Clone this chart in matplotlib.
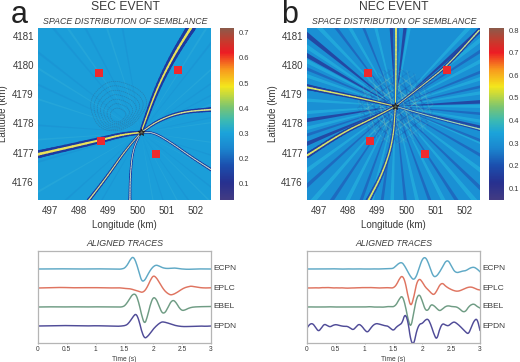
import matplotlib
matplotlib.use("Agg")
from matplotlib import pyplot as plt
from matplotlib.colors import LinearSegmentedColormap, Normalize
from matplotlib.cm import ScalarMappable
from matplotlib.collections import LineCollection
from matplotlib.patches import Circle
import numpy as np

plt.rcParams['font.family'] = ['Liberation Sans', 'DejaVu Sans']

# station squares, same for both events
STATION_LON = [498.70, 501.40, 498.76, 500.66]
STATION_LAT = [4179.72, 4179.84, 4177.41, 4176.96]

# epicentres
STAR_A = (500.13, 4177.69)
STAR_B = (499.63, 4178.59)

# semblance ridges, panel a
A_NE = [(500.13, 4177.69), (500.65, 4179.14), (501.22, 4180.29), (501.85, 4181.3)]
A_W = [(496.6, 4176.94), (498.71, 4177.42), (499.5, 4177.62), (500.13, 4177.69)]
A_E = [(500.13, 4177.69), (500.75, 4178.12), (501.55, 4178.4), (502.55, 4178.48)]
A_SE = [(500.13, 4177.69), (500.55, 4177.7), (501.15, 4177.35), (501.85, 4176.85), (502.55, 4176.4)]
A_SW = [(500.13, 4177.69), (499.6, 4177.08), (498.95, 4176.15), (498.33, 4175.35)]
A_S = [(500.13, 4177.69), (499.85, 4177.1), (499.76, 4176.2), (499.75, 4175.35)]

# semblance ridges, panel b
B_W = [(496.6, 4179.24), (498.43, 4178.87), (499.63, 4178.59)]
B_SW = [(496.6, 4176.9), (497.85, 4177.7), (498.8, 4178.15), (499.63, 4178.59)]
B_NE = [(499.63, 4178.59), (500.7, 4179.42), (501.4, 4179.98), (502.5, 4181.2)]
B_N = [(499.63, 4178.59), (499.65, 4179.95), (499.65, 4181.3)]
B_S = [(499.63, 4178.59), (499.55, 4177.4), (499.2, 4176.3), (498.7, 4175.35)]
B_SE = [(499.63, 4178.59), (500.9, 4178.22), (502.55, 4177.8)]

# angles of the faint semblance stripes, degrees from east
A_RAYS_DARK = [12, 28, 35, 52, 100, 118, 130, 142, 155, 176, 196, 222, 240, 288, 305, 322, 342]
A_RAYS_LIGHT = [8, 22, 42, 58, 108, 125, 148, 162, 184, 210, 232, 280, 298, 315, 332, 352]
B_RAYS_STRONG = [-14, 3, 42, 83, 93, 141, 150, 167, 189, 203]
B_RAYS_DARK = [-22, -5, 13, 22, 33, 112, 127, 157, 198, 222, 236, 250, 262, 276, 290, 303, 316, 330]
B_RAYS_LIGHT = [-10, 0, 9, 18, 28, 38, 47, 80, 104, 120, 134, 146, 153, 161, 176, 184, 194, 216, 229,
                243, 256, 268, 283, 297, 310, 323, 337]

# interference lattice close to the epicentre panel b
LATTICE_ANGLES = [35, -40, 105]
LATTICE_OFFSETS = [-1.1, -0.9, -0.7, -0.5, -0.3, -0.1, 0.1, 0.3, 0.5, 0.7, 0.9, 1.1]
LATTICE_RADII = [1.3, 1.0, 0.7]

# topography outline and its contour levels
TOPO_LON = [498.43, 498.39, 498.66, 499.11, 499.68, 500.2, 500.37, 500.14, 499.85, 499.28, 498.71]
TOPO_LAT = [4178.34, 4178.8, 4179.2, 4179.49, 4179.37, 4179.08, 4178.68, 4178.28, 4177.94, 4177.71, 4177.82]
TOPO_LEVELS = [1.0, 0.88, 0.76, 0.64, 0.52, 0.4, 0.28]

LON_TICKS = [497, 498, 499, 500, 501, 502]
LAT_TICKS = [4176, 4177, 4178, 4179, 4180, 4181]
CBAR_TICKS_A = [0.1, 0.2, 0.3, 0.4, 0.5, 0.6, 0.7]
CBAR_TICKS_B = [0.1, 0.2, 0.3, 0.4, 0.5, 0.6, 0.7, 0.8]

TRACE_NAMES = ['ECPN', 'EPLC', 'EBEL', 'EPDN']
TRACE_OFFSETS = [74, 55, 36, 17]

TIME_A = [0, 0.2, 0.4, 0.6, 0.8, 1.0, 1.2, 1.4, 1.45, 1.5, 1.55, 1.6, 1.65, 1.7, 1.75, 1.8, 1.85, 1.9, 1.95, 2.0,
          2.05, 2.1, 2.15, 2.2, 2.25, 2.3, 2.35, 2.4, 2.45, 2.5, 2.55, 2.6, 2.65, 2.7, 2.8, 2.9, 3.0]
A_ECPN = [0, 0.1, 0.2, 0, 0, 0.2, 0, -0.2, 0, 0.8, 4, 9.5, 12.5, 7, -3, -12.5, -11.5, -6, -1, 2.5,
          4, 3, 1.5, 0.7, 0.5, 0.8, 1, 0.8, 0.3, 0, -0.2, -0.3, -0.2, 0, 0.1, 0, 0]
A_EPLC = [0, 0.3, 0.6, 0.2, 0.3, 0.4, 0, 0.2, 0, -0.4, -0.6, -0.8, -1.6, -2.5, -3.4, -4.5, -3, 1.5, 8, 12.5,
          10.5, 6, 1, -3, -5.5, -7, -6.3, -4.8, -3, -1, 0.4, 1.2, 1.9, 1.4, 0.4, 0, 0.2]
A_EBEL = [0, 0.2, 0, 0.2, 0, 0.2, 0, 0, 0, 1, 4.5, 9.5, 13, 12.5, 4, -9, -17.5, -9, 3, 10,
          8, 1, -6, -6, -1, 5, 7, 4, -1, -3.6, -3, -1.5, -0.5, 0, 0.3, 0.4, 0.5]
A_EPDN = [0, 0.2, 0.5, 0.3, 0, 0.3, 0, -0.3, 0, 0.3, 1.5, 5, 9.5, 12.5, 6, -6, -12.5, -10.5, -7, -3,
          0, 2.5, 4.2, 3.8, 3, 2, 1, 0.3, -0.2, -0.5, -0.6, -0.5, -0.3, -0.4, 0, -0.3, 0]

TIME_B = [round(i * 0.05, 2) for i in range(61)]
B_ECPN = [0, 0, 0, 0.1, 0.1, 0, 0, 0, 0.1, 0.2, 0.1, 0, -0.1, 0, 0.1, 0, 0, 0.1, 0.2, 0, 0, -0.1, 0, 0.1, 0, 0,
          0.2, 0.3, 0.4, 0.3, 0.8, 3.5, 6, 6.5, 2.5, -3, -8, -11, -7, 2, 10, 12, 7, -2, -8, -7, -3, 2, 7.5, 8.5,
          3.5, -2, -3.7, -3, -2, -1.8, 0, 1.5, 1.8, 0, -2.7]
B_EPLC = [0, 0, 0.1, 0.2, 0, 0.4, 0.3, 0.5, 0.3, 0, 0.2, 0, 0.2, 0, -0.2, 0.1, 0, 0.2, 0.2, 0.4, 0.3, 0.2, 0.5,
          0.2, 0.1, 0, 0.2, 0.4, 0.3, 0, 0.2, 3, 9, 12.5, 7, -8, -19, -10, 5, 9.5, 6, 1, -1.7, -5, -7, -3, 3, 5,
          2, 0, -1.5, -2.7, -3.3, -2.8, -1.5, -0.2, 0.8, 1, 0, -1.5, -2]
B_EBEL = [0, 0.1, 0, 0, 0.1, 0, 0, 0.1, 0.2, 0, 0, 0, 0.1, 0, 0, 0, 0, 0, 0.1, 0, 0, 0.2, 0.3, 0, -0.1, 0, -0.2,
          0, 0.5, 0.2, 0.2, 2.5, 8, 11.5, 3, -12, -21, -6, 9, 13, 6, -3, -3.5, 2.6, 1.5, -1.5, -4, -2, 0.5, 1.3,
          0.5, 0.3, 0, -2, -4.8, -4.5, 0, 2.5, 3, 0.5, -1]
B_EPDN = [-2, 2, 2.5, -1.5, -5.5, -2, 2, 0.5, -1, 0.7, 1.5, 0.7, 0, -0.4, -0.3, -2, -4, -1, 2, 0, -4, -6.5, -2.5,
          1, 2.5, 2, 1, 0.3, 0, -2.5, -4.6, -1, 1, 3, 12.5, 5, -15, -19, -5, 2, 2.5, 6, 7.2, 1, -8, -14, -3, 2.6,
          1, 0, 2.5, 4.3, 2.5, 0, -3, -6, -8.2, -1, 5.5, 7.5, -4.3]

TRACE_COLORS = ['#5fa9c6', '#df7460', '#6f9c84', '#504c98']
TEXT_COLOR = '#3a3a3a'

semblance = LinearSegmentedColormap.from_list('semblance', [
    (0.0, '#423b82'), (0.1, '#27308f'), (0.2, '#1b4fae'), (0.3, '#1b86cf'), (0.39, '#1ba3da'),
    (0.46, '#3ab9b4'), (0.54, '#79c473'), (0.66, '#f4e61c'), (0.76, '#f8981d'), (0.86, '#ec1c24'),
    (0.92, '#c9382c'), (1.0, '#8c5a4a')])


def px_axes(fig, left, top, right, bottom):
    return fig.add_axes([left / 520, 1 - bottom / 362, (right - left) / 520, (bottom - top) / 362])


def chaikin(pts, closed=False, rounds=3):
    pts = np.asarray(pts, dtype=float)
    for _ in range(rounds):
        if closed:
            nxt = np.roll(pts, -1, axis=0)
            pts = np.column_stack([0.75 * pts + 0.25 * nxt, 0.25 * pts + 0.75 * nxt]).reshape(-1, 2)
        else:
            a, b = pts[:-1], pts[1:]
            mid = np.column_stack([0.75 * a + 0.25 * b, 0.25 * a + 0.75 * b]).reshape(-1, 2)
            pts = np.vstack([pts[0], mid, pts[-1]])
    return pts


def ridge(ax, pts, w0, w1, centre, edge='#1c3aa0', flank=3.0):
    # tapered ridge: dark flanks with a bright core, w0 at the first point, w1 at the last
    p = chaikin(pts)
    segs = np.stack([p[:-1], p[1:]], axis=1)
    widths = np.linspace(w0, w1, len(segs))
    ax.add_collection(LineCollection(segs, colors=edge, linewidths=widths * flank, capstyle='round', zorder=3))
    ax.add_collection(LineCollection(segs, colors=centre, linewidths=widths, capstyle='round', zorder=4))


def rays(ax, star, angles, color, spread, alpha):
    # stripes widen away from the epicentre, so draw them as thin wedges
    for ang in angles:
        t0, t1 = np.radians(ang - spread), np.radians(ang + spread)
        ax.fill([star[0], star[0] + 9 * np.cos(t0), star[0] + 9 * np.cos(t1)],
                [star[1], star[1] + 9 * np.sin(t0), star[1] + 9 * np.sin(t1)],
                color=color, lw=0, alpha=alpha, zorder=2)


def lattice(ax, star):
    # interference pattern: crossing fringes that fade out with distance from the epicentre
    for radius in LATTICE_RADII:
        clip = Circle(star, radius, transform=ax.transData)
        for ang in LATTICE_ANGLES:
            t = np.radians(ang)
            d = np.array([np.cos(t), np.sin(t)])
            n = np.array([-d[1], d[0]])
            for i, off in enumerate(LATTICE_OFFSETS):
                a = np.array(star) + off * n - 2 * d
                b = np.array(star) + off * n + 2 * d
                col = '#1f3f9f' if i % 2 else '#9ed8b8'
                l, = ax.plot([a[0], b[0]], [a[1], b[1]], color=col, lw=0.8, alpha=0.13, zorder=2.6)
                l.set_clip_path(clip)


def map_panel(fig, left, right, cleft, cright, vmin, vmax, ticks, back):
    ax = px_axes(fig, left, 28, right, 200)
    ax.set_xlim(496.6, 502.53)
    ax.set_ylim(4175.37, 4181.28)
    ax.set_facecolor(back)
    ax.set_xticks(LON_TICKS)
    ax.set_yticks(LAT_TICKS)
    ax.set_yticklabels([str(v) for v in LAT_TICKS])
    ax.tick_params(length=0, labelsize=7, pad=3, labelcolor=TEXT_COLOR)
    ax.tick_params(axis='x', pad=4)
    ax.set_xlabel('Longitude (km)', fontsize=7, color=TEXT_COLOR, labelpad=3)
    ax.set_ylabel('Latitude (km)', fontsize=7, color=TEXT_COLOR)
    ax.yaxis.set_label_coords(-29.5 / 173, 0.5)
    for s in ax.spines.values():
        s.set_visible(False)
    cax = px_axes(fig, cleft, 28, cright, 200)
    cb = fig.colorbar(ScalarMappable(Normalize(vmin, vmax), semblance), cax=cax)
    cb.set_ticks(ticks)
    cb.ax.tick_params(length=0, labelsize=5.5, pad=3.5, labelcolor=TEXT_COLOR)
    cb.outline.set_visible(False)
    return ax


def trace_panel(fig, left, right, times, series):
    ax = px_axes(fig, left, 251, right, 343)
    ax.set_xlim(0, 3)
    ax.set_ylim(0, 92)
    for name, off, vals, col in zip(TRACE_NAMES, TRACE_OFFSETS, series, TRACE_COLORS):
        p = chaikin(np.column_stack([times, np.array(vals) + off]), rounds=2)
        ax.plot(p[:, 0], p[:, 1], color=col, lw=1.05)
        ax.text(3.04, off, name, fontsize=6, color=TEXT_COLOR, va='center', ha='left')
    ax.set_yticks([])
    ax.set_xticks([0, 0.5, 1, 1.5, 2, 2.5, 3])
    ax.set_xticklabels(['0', '0.5', '1', '1.5', '2', '2.5', '3'])
    ax.tick_params(length=1, width=0.5, labelsize=4.8, pad=1.5, color='#999999', labelcolor=TEXT_COLOR)
    ax.set_xlabel('Time (s)', fontsize=4.8, color=TEXT_COLOR, labelpad=2)
    for s in ax.spines.values():
        s.set_color('#b5b5b5')
        s.set_linewidth(0.9)
    return ax


def overlay(ax, star, topo_alpha):
    lon0, lat0 = 499.34, 4178.17
    ring = np.column_stack([TOPO_LON, TOPO_LAT])
    for lev in TOPO_LEVELS:
        p = chaikin(np.array([lon0, lat0]) + (ring - [lon0, lat0]) * lev, closed=True)
        p = np.vstack([p, p[0]])
        ax.plot(p[:, 0], p[:, 1], color='#2a78a8', lw=0.5, ls=(0, (2, 1)), alpha=topo_alpha, zorder=2.8)
    ax.scatter(STATION_LON, STATION_LAT, marker='s', s=34, color='#ee2a2e', linewidths=0, zorder=7)
    ax.scatter([star[0]], [star[1]], marker='*', s=26, facecolor='#6a6a5a', edgecolor='#222222', linewidths=0.7, zorder=8)


fig = plt.figure(figsize=(5.2, 3.62), dpi=100)

# panel a
ax = map_panel(fig, 38, 211, 220, 234, 0.035, 0.719, CBAR_TICKS_A, '#1b9ed9')
rays(ax, STAR_A, A_RAYS_DARK, '#1a86cc', 0.5, 0.3)
rays(ax, STAR_A, A_RAYS_LIGHT, '#3ab6dc', 0.5, 0.3)
ridge(ax, A_NE, 0.7, 1.9, '#e9e25a', flank=3.6)
ridge(ax, A_W, 1.9, 0.8, '#e9e25a', flank=3.0)
ridge(ax, A_E, 0.6, 1.1, '#dfe38a')
ridge(ax, A_SE, 0.5, 0.7, '#c9e3c8')
ridge(ax, A_SW, 0.5, 0.9, '#dfe38a')
ridge(ax, A_S, 0.4, 0.7, '#d9e6c8')
overlay(ax, STAR_A, 0.75)

# panel b
ax = map_panel(fig, 307, 480, 489, 504, 0.048, 0.81, CBAR_TICKS_B, '#1a90d4')
rays(ax, STAR_B, B_RAYS_LIGHT, '#24aede', 1.1, 0.8)
rays(ax, STAR_B, B_RAYS_DARK, '#1f62bb', 0.9, 0.8)
rays(ax, STAR_B, B_RAYS_STRONG, '#24409f', 1.2, 0.9)
lattice(ax, STAR_B)
ridge(ax, B_W, 1.3, 0.6, '#d8e36a', edge='#1f3f9f')
ridge(ax, B_SW, 1.3, 0.6, '#d8e36a', edge='#1f3f9f')
ridge(ax, B_NE, 0.5, 1.0, '#c8e08a', edge='#1f3f9f')
ridge(ax, B_N, 0.6, 1.5, '#d8e36a', edge='#1f6fc0')
ridge(ax, B_S, 0.6, 1.3, '#d8e36a', edge='#1f4fae')
ridge(ax, B_SE, 0.5, 0.9, '#a8dcb0', edge='#1f4fae')
overlay(ax, STAR_B, 0.3)

trace_panel(fig, 38, 211, TIME_A, [A_ECPN, A_EPLC, A_EBEL, A_EPDN])
trace_panel(fig, 307, 480, TIME_B, [B_ECPN, B_EPLC, B_EBEL, B_EPDN])

for x, title in [(125, 'SEC EVENT'), (394, 'NEC EVENT')]:
    fig.text(x / 520, 1 - 7 / 362, title, fontsize=8.7, color=TEXT_COLOR, ha='center', va='center')
    fig.text(x / 520, 1 - 21 / 362, 'SPACE DISTRIBUTION OF SEMBLANCE', fontsize=6.3, style='italic',
             color=TEXT_COLOR, ha='center', va='center')
    fig.text(x / 520, 1 - 244 / 362, 'ALIGNED TRACES', fontsize=6.4, style='italic', color=TEXT_COLOR,
             ha='center', va='center')
fig.text(11 / 520, 1 - 23 / 362, 'a', fontsize=22, color='#222222', ha='left', va='baseline')
fig.text(281 / 520, 1 - 23 / 362, 'b', fontsize=22, color='#222222', ha='left', va='baseline')

fig.savefig('out.png', dpi=100)
